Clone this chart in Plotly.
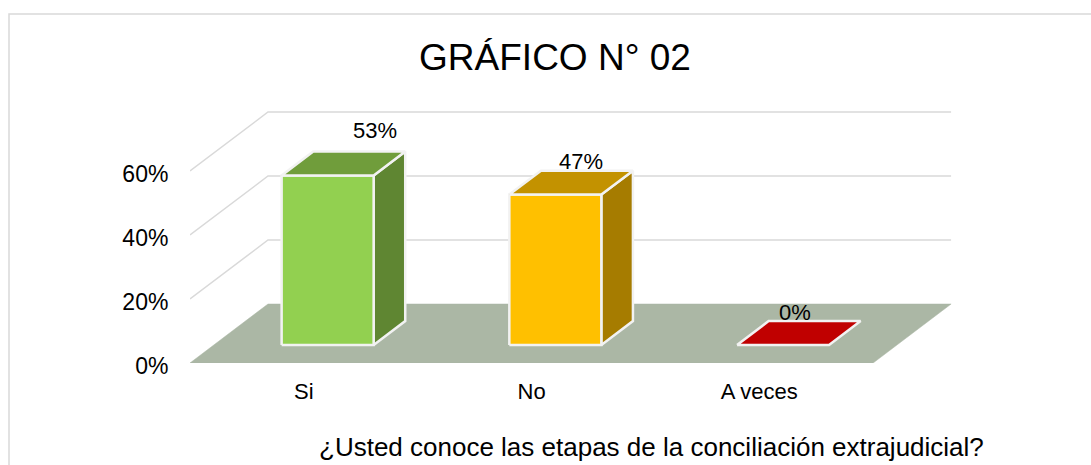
import plotly.graph_objects as go

# ---------------- data ----------------
categories = ["Si", "No", "A veces"]
values = [53, 47, 0]
value_labels = ["53%", "47%", "0%"]
y_ticks = [0, 20, 40, 60]
y_tick_labels = ["0%", "20%", "40%", "60%"]
title_text = "GRÁFICO N° 02"
x_title = "¿Usted conoce las etapas de la conciliación extrajudicial?"

# ---------------- style ----------------
front_colors = ["#92D050", "#FFC000", "#C00000"]
top_colors = ["#709D3B", "#C39200", "#C00000"]
side_colors = ["#5F8632", "#A67C00", "#8F0000"]
label_dx = [32, 10, -4]
label_dy = [-33, -21, -21]
FONT = "Liberation Sans, Arial, sans-serif"
EDGE = "#F2F2F2"
GRID = "#D9D9D9"
FLOOR = "#ABB7A5"

W, H = 1091, 465
L, R, T, B = 190, 955, 100, 363          # plot area in pixels
PX_PER_CAT = 227.7
PX_PER_PCT = 3.2
DX = 78 / PX_PER_CAT                     # depth shift in category units
DY = 59 / PX_PER_PCT                     # depth shift in percent units
BAR_HALF = 0.202
Z0, Z1 = 0.305, 0.71


def proj(x, v, z):
    return x + z * DX, v + z * DY


def poly(pts, fill, line_color, width):
    xs, ys = zip(*[proj(*p) for p in pts])
    xs = list(xs) + [xs[0]]
    ys = list(ys) + [ys[0]]
    return go.Scatter(x=xs, y=ys, mode="lines", fill="toself", fillcolor=fill,
                      line=dict(color=line_color, width=width),
                      hoverinfo="skip", showlegend=False)


fig = go.Figure()
n = len(categories)

# gridlines (side wall + back wall)
for v in y_ticks[1:]:
    pts = [proj(0, v, 0), proj(0, v, 1), proj(n, v, 1)]
    fig.add_trace(go.Scatter(x=[p[0] for p in pts], y=[p[1] for p in pts], mode="lines",
                             line=dict(color=GRID, width=1.5), hoverinfo="skip",
                             showlegend=False))

# floor
fig.add_trace(poly([(0, 0, 0), (n, 0, 0), (n, 0, 1), (0, 0, 1)], FLOOR, FLOOR, 0.5))

# bars
for i, v in enumerate(values):
    c = i + 0.5
    x0, x1 = c - BAR_HALF, c + BAR_HALF
    if v > 0:
        fig.add_trace(poly([(x1, 0, Z0), (x1, 0, Z1), (x1, v, Z1), (x1, v, Z0)],
                           side_colors[i], EDGE, 2.5))
        fig.add_trace(poly([(x0, 0, Z0), (x1, 0, Z0), (x1, v, Z0), (x0, v, Z0)],
                           front_colors[i], EDGE, 2.5))
    fig.add_trace(poly([(x0, v, Z0), (x1, v, Z0), (x1, v, Z1), (x0, v, Z1)],
                       top_colors[i], EDGE, 2.5))
    zm = (Z0 + Z1) / 2
    ax, ay = proj(c, v, zm)
    fig.add_annotation(x=ax, y=ay, text=value_labels[i], showarrow=False,
                       xshift=label_dx[i], yshift=-label_dy[i],
                       font=dict(family=FONT, size=22, color="#000000"))

pw, ph = R - L, B - T


def px_x(px):
    return (px - L) / pw


def px_y(py):
    return (B - py) / ph


# x axis title as annotation (offset to the right like the reference)
fig.add_annotation(xref="paper", yref="paper", x=px_x(651), y=px_y(447), text=x_title,
                   showarrow=False, xanchor="center", yanchor="middle",
                   font=dict(family=FONT, size=26, color="#000000"))

# chart frame
fig.add_shape(type="rect", xref="paper", yref="paper", x0=px_x(9), x1=px_x(1100),
              y0=px_y(480), y1=px_y(14), line=dict(color="#D9D9D9", width=1.5),
              fillcolor="rgba(0,0,0,0)", layer="below")

fig.update_layout(
    width=W, height=H, autosize=False,
    margin=dict(l=L, r=W - R, t=T, b=H - B, pad=0),
    paper_bgcolor="#FFFFFF", plot_bgcolor="rgba(0,0,0,0)",
    title=dict(text=title_text, x=555 / W, xanchor="center", y=1 - 57 / H, yanchor="middle",
               font=dict(family=FONT, size=37, color="#000000")),
    font=dict(family=FONT, color="#000000"),
    xaxis=dict(range=[0, pw / PX_PER_CAT], tickvals=[i + 0.5 for i in range(n)],
               ticktext=categories, showgrid=False, zeroline=False, showline=False,
               ticks="outside", ticklen=9, tickcolor="rgba(0,0,0,0)",
               tickfont=dict(family=FONT, size=22, color="#000000"), fixedrange=True),
    yaxis=dict(range=[0, ph / PX_PER_PCT], tickvals=y_ticks, ticktext=y_tick_labels,
               showgrid=False, zeroline=False, showline=False,
               ticks="outside", ticklen=16, tickcolor="rgba(0,0,0,0)",
               ticklabelshift=3,
               tickfont=dict(family=FONT, size=23, color="#000000"), fixedrange=True),
    showlegend=False,
)

fig.write_html("out.html", config={"displayModeBar": False},
               post_script="document.body.style.margin='0';document.body.style.overflow='hidden';")
